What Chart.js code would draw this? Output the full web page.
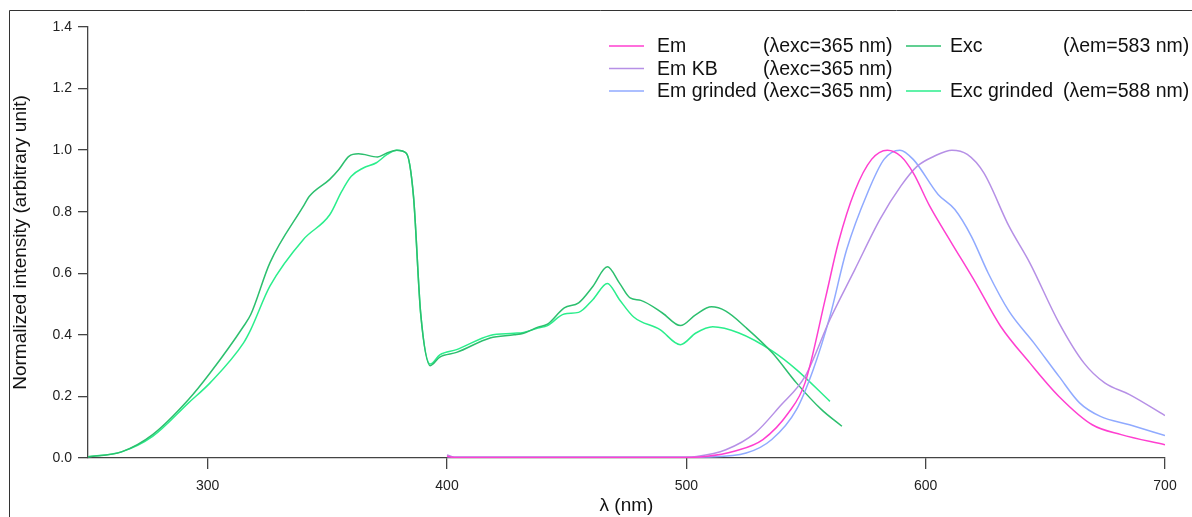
<!DOCTYPE html>
<html>
<head>
<meta charset="utf-8">
<script src="https://cdn.jsdelivr.net/npm/chart.js@4"></script>
<style>
  body { margin: 0; background: #fff; }
  #wrap { width: 1192px; height: 517px; }
</style>
</head>
<body>
<div id="wrap"><canvas id="myChart" width="1192" height="517"></canvas></div>
<script>
// values (x in nm, y normalized)
const excX = [250, 264, 277, 292, 301, 315, 318, 326, 340, 342.5, 351, 354.8, 359, 363, 371, 374.7, 379, 383, 386, 389, 393,
  397, 404, 418, 428, 432, 438, 442, 449, 455, 461, 467, 472, 476.5, 481, 490, 497.5, 504, 510.5, 516.5, 525, 536, 546, 556.5, 565];
const excY = [0.004, 0.02, 0.076, 0.19, 0.276, 0.428, 0.466, 0.634, 0.818, 0.85, 0.905, 0.937, 0.98, 0.988, 0.978, 0.99, 1.0, 0.99, 0.85, 0.47, 0.30,
  0.328, 0.343, 0.39, 0.40, 0.405, 0.425, 0.435, 0.488, 0.504, 0.558, 0.621, 0.569, 0.52, 0.512, 0.471, 0.43, 0.466, 0.491, 0.477, 0.423, 0.341, 0.244, 0.157, 0.103];

const excGrX = [250, 264, 277, 292, 301, 315, 318, 326, 340, 351, 356, 360, 365, 370.5, 375, 379, 383, 386, 389, 393,
  397, 404, 418, 428, 432, 438, 442, 449, 455, 461, 467, 472, 478, 489, 497.5, 504, 511, 522, 536, 546, 560];
const excGrY = [0.004, 0.02, 0.07, 0.179, 0.244, 0.374, 0.417, 0.558, 0.71, 0.79, 0.866, 0.915, 0.942, 0.959, 0.986, 1.0, 0.99, 0.85, 0.47, 0.305,
  0.335, 0.352, 0.398, 0.405, 0.408, 0.422, 0.43, 0.468, 0.473, 0.515, 0.567, 0.515, 0.458, 0.417, 0.368, 0.406, 0.426, 0.406, 0.347, 0.287, 0.184];

const emX = [400, 403, 450, 500, 508, 520, 532, 542.6, 549.6, 558.3, 563.5, 570.4, 577.4, 584, 589.6, 594.8, 601.7, 610.4, 620.9, 631.3, 643.5, 655.7, 669.6, 681.7, 700];
const emY = [0.006, 0.002, 0.002, 0.002, 0.005, 0.022, 0.06, 0.146, 0.244, 0.525, 0.699, 0.867, 0.97, 1.0, 0.98, 0.926, 0.818, 0.704, 0.569, 0.428, 0.309, 0.2, 0.108, 0.076, 0.043];

const emKbX = [400, 403, 450, 500, 504.3, 516.5, 528.7, 539.1, 549.6, 560, 570.4, 580.9, 589.6, 596.5, 603.5, 611, 617.4, 624.3, 634.8, 643.5, 655.7, 666.1, 674.8, 685.2, 700];
const emKbY = [0.01, 0.003, 0.003, 0.003, 0.005, 0.027, 0.081, 0.168, 0.265, 0.45, 0.612, 0.775, 0.883, 0.948, 0.98, 1.0, 0.986, 0.926, 0.753, 0.634, 0.439, 0.309, 0.244, 0.206, 0.138];

const emGrX = [400, 403, 450, 500, 508, 525, 535.7, 546, 553, 560, 567, 575.7, 582.6, 589.2, 594.8, 605.2, 612.2, 619.1, 626.1, 634.8, 645.2, 655.7, 664.3, 673, 685.2, 700];
const emGrY = [0.005, 0.002, 0.002, 0.002, 0.003, 0.016, 0.06, 0.157, 0.287, 0.46, 0.677, 0.861, 0.97, 1.0, 0.97, 0.856, 0.807, 0.72, 0.601, 0.477, 0.374, 0.265, 0.179, 0.135, 0.108, 0.073];

const legendNames = ['Em', 'Em KB', 'Em grinded', 'Exc', 'Exc grinded'];
const legendNotes = ['(λexc=365 nm)', '(λexc=365 nm)', '(λexc=365 nm)', '(λem=583 nm)', '(λem=588 nm)'];
const xTicks = [300, 400, 500, 600, 700];
const yTicks = [0.0, 0.2, 0.4, 0.6, 0.8, 1.0, 1.2, 1.4];

const colors = ['#ff3fd0', '#b690e6', '#90aaff', '#2cbf6e', '#2bee8c'];

function pts(xs, ys) {
  return xs.map((x, i) => ({ x: x, y: ys[i] }));
}

const series = [
  pts(emX, emY), pts(emKbX, emKbY), pts(emGrX, emGrY), pts(excX, excY), pts(excGrX, excGrY)
];

const frame = {
  id: 'frame',
  afterDraw: (chart) => {
    const ctx = chart.ctx;
    ctx.save();
    ctx.strokeStyle = '#333';
    ctx.lineWidth = 1;
    ctx.beginPath();
    ctx.moveTo(9.5, 517);
    ctx.lineTo(9.5, 10.5);
    ctx.lineTo(1192, 10.5);
    ctx.stroke();

    // legend, two columns
    ctx.font = '19.5px "Liberation Sans", Arial, sans-serif';
    ctx.textBaseline = 'middle';
    ctx.fillStyle = '#111';
    const spots = [[0, 0], [0, 1], [0, 2], [1, 0], [1, 2]];
    spots.forEach((s, i) => {
      const cx = s[0] === 0 ? 609 : 906;
      const tx = s[0] === 0 ? 657 : 950;
      const nx = s[0] === 0 ? 763 : 1063;
      const y = 46 + s[1] * 22.5;
      ctx.strokeStyle = colors[i];
      ctx.lineWidth = 1.5;
      ctx.beginPath();
      ctx.moveTo(cx, y);
      ctx.lineTo(cx + 35, y);
      ctx.stroke();
      ctx.fillText(legendNames[i], tx, y + 1);
      ctx.fillText(legendNotes[i], nx, y + 1);
    });
    ctx.restore();
  }
};

const ctx = document.getElementById('myChart').getContext('2d');
const myChart = new Chart(ctx, {
  type: 'line',
  data: {
    datasets: series.map((d, i) => ({
      label: legendNames[i],
      data: d,
      borderColor: colors[i],
      borderWidth: 1.5,
      pointRadius: 0,
      fill: false,
      cubicInterpolationMode: 'monotone'
    }))
  },
  plugins: [frame],
  options: {
    responsive: false,
    animation: false,
    layout: { padding: { left: 0, right: 27, top: 27, bottom: 0 } },
    plugins: { legend: { display: false }, tooltip: { enabled: false } },
    scales: {
      x: {
        type: 'linear',
        min: 250,
        max: 700,
        afterFit: (s) => { s.height = 59; },
        afterBuildTicks: (s) => { s.ticks = xTicks.map(v => ({ value: v })); },
        border: { color: '#444', width: 1.3 },
        grid: { drawOnChartArea: false, tickLength: 11, color: '#444', lineWidth: 1.3 },
        ticks: { color: '#222', padding: 9, maxRotation: 0, font: { family: 'Liberation Sans', size: 14 } },
        title: { display: true, text: 'λ (nm)', color: '#111', padding: { top: 0, bottom: 0 },
          font: { family: 'Liberation Sans', size: 19 } }
      },
      y: {
        min: 0,
        max: 1.4,
        afterFit: (s) => { s.width = 88; },
        afterBuildTicks: (s) => { s.ticks = yTicks.map(v => ({ value: v })); },
        border: { color: '#444', width: 1.3 },
        grid: { drawOnChartArea: false, tickLength: 10, color: '#444', lineWidth: 1.3 },
        ticks: { color: '#222', padding: 6, font: { family: 'Liberation Sans', size: 14 },
          callback: (v) => Number(v).toFixed(1) },
        title: { display: true, text: 'Normalized intensity (arbitrary unit)', color: '#111',
          padding: { top: 9, bottom: 0 }, font: { family: 'Liberation Sans', size: 19 } }
      }
    }
  }
});
</script>
</body>
</html>
